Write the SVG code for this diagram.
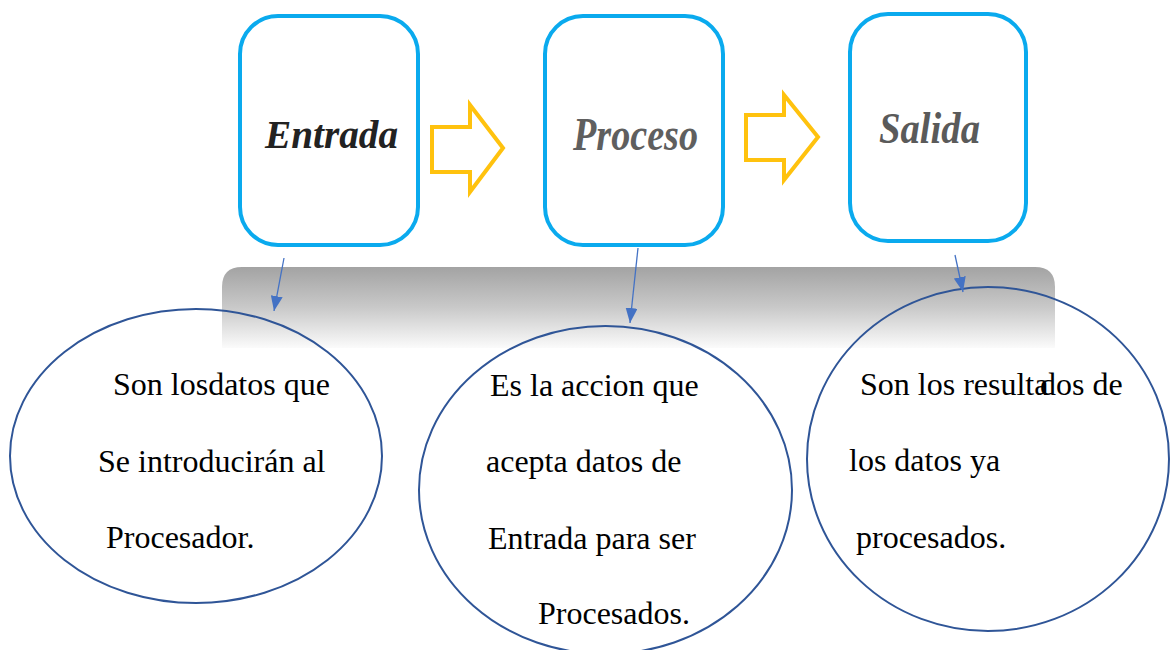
<svg xmlns="http://www.w3.org/2000/svg" width="1170" height="650" viewBox="0 0 1170 650">
<style>
.box{fill:#fff;stroke:#0AAAEE;stroke-width:4}
.arw{fill:#fff;stroke:#FFC20E;stroke-width:4;stroke-linejoin:miter}
.ell{fill:none;stroke:#2F5597;stroke-width:2}
.title{font-family:"Liberation Serif",serif;font-style:italic;font-weight:bold}
.txt{font-family:"Liberation Serif",serif;font-size:32px;fill:#000}
.con{stroke:#4472C4;stroke-width:1.3;fill:none}
</style>
<defs>
<linearGradient id="band" x1="0" y1="0" x2="0" y2="1">
<stop offset="0" stop-color="#a3a3a3"/>
<stop offset="0.5" stop-color="#c9c9c9"/>
<stop offset="1" stop-color="#fbfbfb"/>
</linearGradient>
<marker id="ah" markerUnits="userSpaceOnUse" markerWidth="16" markerHeight="12" refX="15" refY="6" orient="auto">
<path d="M0,0 L15,6 L0,12 Z" fill="#4472C4"/>
</marker>
</defs>
<rect width="1170" height="650" fill="#fff"/>
<g id="band-bg">
<path d="M222,348 L222,287 Q222,267 242,267 L1035,267 Q1055,267 1055,287 L1055,348 Z" fill="url(#band)"/>
</g>
<g id="entrada">
<rect class="box" x="240" y="16" width="178" height="229" rx="38"/>
<text class="title" x="265" y="148" font-size="41" fill="#222" textLength="133" lengthAdjust="spacingAndGlyphs">Entrada</text>
</g>
<g id="arrow1">
<path class="arw" d="M432,127 L470,127 L470,105 L503,148 L470,192 L470,172 L432,172 Z"/>
</g>
<g id="proceso">
<rect class="box" x="545" y="16" width="178" height="229" rx="38"/>
<text class="title" x="573" y="150" font-size="47" fill="#5f5f5f" textLength="125" lengthAdjust="spacingAndGlyphs">Proceso</text>
</g>
<g id="arrow2">
<path class="arw" d="M746,115 L784,115 L784,95 L818,137 L784,180 L784,160 L746,160 Z"/>
</g>
<g id="salida">
<rect class="box" x="850" y="14" width="176" height="227" rx="38"/>
<text class="title" x="879" y="143" font-size="44" fill="#5a5a5a" textLength="101" lengthAdjust="spacingAndGlyphs">Salida</text>
</g>
<g id="ellipse1">
<ellipse class="ell" cx="196" cy="456" rx="186" ry="147"/>
<text class="txt" x="113" y="395">Son losdatos que</text>
<text class="txt" x="98" y="472">Se introducirán al</text>
<text class="txt" x="106" y="548">Procesador.</text>
</g>
<g id="ellipse2">
<ellipse class="ell" cx="605.5" cy="490" rx="186.5" ry="164"/>
<text class="txt" x="490" y="396">Es la accion que</text>
<text class="txt" x="486" y="472">acepta datos de</text>
<text class="txt" x="488" y="549">Entrada para ser</text>
<text class="txt" x="538" y="624">Procesados.</text>
</g>
<g id="ellipse3">
<ellipse class="ell" cx="988" cy="459" rx="181" ry="172"/>
<text class="txt" x="860" y="395">Son los resulta</text>
<text class="txt" x="1040" y="395">dos de</text>
<text class="txt" x="849" y="471">los datos ya</text>
<text class="txt" x="856" y="548">procesados.</text>
</g>
<g id="connectors">
<line class="con" x1="284" y1="258" x2="274" y2="311" marker-end="url(#ah)"/>
<line class="con" x1="638" y1="248" x2="630" y2="323" marker-end="url(#ah)"/>
<line class="con" x1="955" y1="255" x2="963" y2="292" marker-end="url(#ah)"/>
</g>
</svg>
